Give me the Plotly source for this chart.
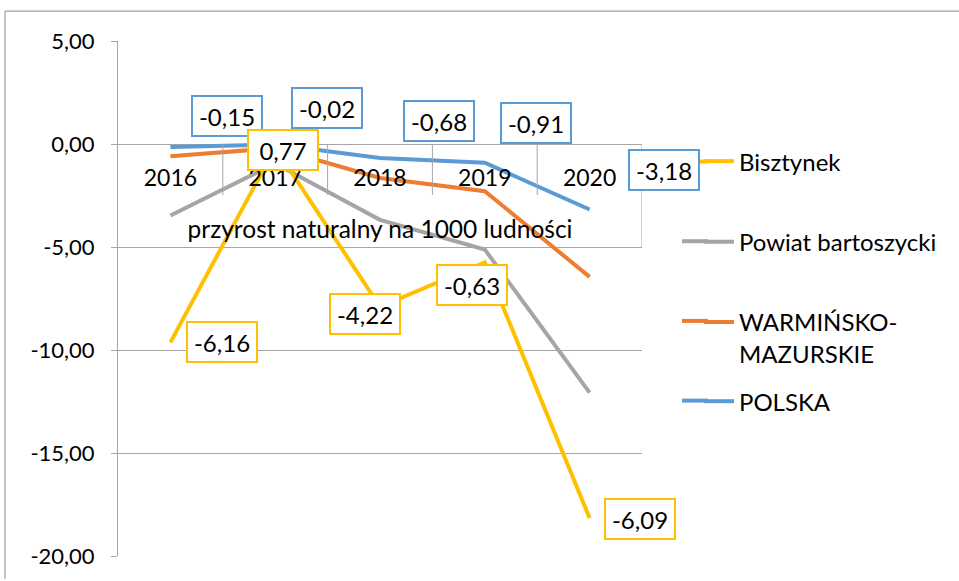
import numpy as np
import plotly.graph_objects as go

# Przyrost naturalny na 1000 ludności, 2016-2020
years = ["2016", "2017", "2018", "2019", "2020"]
polska = [-0.15, -0.02, -0.68, -0.91, -3.18]
warminsko_mazurskie = [-0.45, -0.18, -0.97, -1.38, -3.27]
powiat_bartoszycki = [-2.87, -0.75, -2.03, -2.83, -5.62]
bisztynek = [-6.16, 0.77, -4.22, -0.63, -6.09]

y_tickvals = [5, 0, -5, -10, -15, -20]
y_ticktext = ["5,00", "0,00", "-5,00", "-10,00", "-15,00", "-20,00"]

FONT = "Lato"
GRID = "#A6A6A6"

series = [
    ("POLSKA", polska, "#5B9BD5", "legend4"),
    ("WARMIŃSKO-<br>MAZURSKIE", warminsko_mazurskie, "#ED7D31", "legend3"),
    ("Powiat bartoszycki", powiat_bartoszycki, "#A5A5A5", "legend2"),
    ("Bisztynek", bisztynek, "#FFC000", "legend"),
]

fig = go.Figure()
for name, vals, color, leg in series:
    fig.add_trace(go.Scatter(
        x=years, y=vals, name=name, mode="lines",
        stackgroup="s", fill="none",
        line=dict(color=color, width=4),
        legend=leg, hoverinfo="skip",
    ))


def fmt(v):
    return f"{v:.2f}".replace(".", ",")


# stacked positions of the two labelled series
polska_top = np.array(polska)
bisztynek_top = (np.array(polska) + np.array(warminsko_mazurskie)
                 + np.array(powiat_bartoszycki) + np.array(bisztynek))

# label box offsets in px (right, down)
polska_offsets = [(57, -31), (52, -36), (59, -37), (51, -40), (74, -40)]
bisztynek_offsets = [(52, 0), (8, 2), (-15, 7), (-13, 23), (50, 1)]

for vals, tops, offs, col in [
    (polska, polska_top, polska_offsets, "#5B9BD5"),
    (bisztynek, bisztynek_top, bisztynek_offsets, "#FFC000"),
]:
    for k, (v, t, (dx, dy)) in enumerate(zip(vals, tops, offs)):
        fig.add_annotation(
            x=k, y=float(t), xref="x", yref="y", text=fmt(v),
            showarrow=False, xshift=dx, yshift=-dy,
            font=dict(family=FONT, size=24, color="#000000"),
            bgcolor="#FFFFFF", bordercolor=col, borderwidth=2,
            borderpad=6, width=56, height=26,
        )

# category tick marks between years and the box edge at the right
shapes = []
for b in [0.5, 1.5, 2.5, 3.5]:
    shapes.append(dict(type="line", xref="x", yref="y", x0=b, x1=b, y0=0, y1=-2.48,
                       line=dict(color=GRID, width=1)))
shapes.append(dict(type="line", xref="x", yref="y", x0=4.5, x1=4.5, y0=0, y1=-5,
                   line=dict(color=GRID, width=1)))

# chart area frame
L, T, PW, PH = 118, 41, 524, 517
def px(xp):
    return (xp - L) / PW
def py(yp):
    return (T + PH - yp) / PH
shapes.append(dict(type="line", xref="paper", yref="paper",
                   x0=px(5), x1=px(959), y0=py(11), y1=py(11),
                   line=dict(color="#A0A0A0", width=1.2)))
shapes.append(dict(type="line", xref="paper", yref="paper",
                   x0=px(5), x1=px(5), y0=py(11), y1=py(581),
                   line=dict(color="#A0A0A0", width=1.2)))

# longer legend keys: extend each legend line to the left
legend_rows = [("#FFC000", 162), ("#A5A5A5", 242), ("#ED7D31", 322), ("#5B9BD5", 402)]
for col, yy in legend_rows:
    shapes.append(dict(type="line", xref="paper", yref="paper",
                       x0=px(682), x1=px(708), y0=py(yy), y1=py(yy),
                       line=dict(color=col, width=4)))

legend_common = dict(font=dict(family=FONT, size=24, color="#000000"),
                     bgcolor="rgba(0,0,0,0)", xanchor="left", yanchor="middle",
                     valign="top", itemwidth=30)
leg_x = px(699)

fig.update_layout(
    width=959, height=581,
    margin=dict(l=L, r=959 - L - PW, t=T, b=581 - T - PH),
    paper_bgcolor="#FFFFFF", plot_bgcolor="#FFFFFF",
    separators=", ",
    showlegend=True,
    legend=dict(**legend_common, x=leg_x, y=py(162)),
    legend2=dict(**legend_common, x=leg_x, y=py(243)),
    legend3=dict(**legend_common, x=leg_x, y=py(339)),
    legend4=dict(**legend_common, x=leg_x, y=py(403)),
    xaxis=dict(
        type="category", range=[-0.5, 4.5],
        anchor="free", position=0.8,
        showgrid=False, zeroline=False, showline=False, ticks="",
        ticklabelstandoff=18,
        tickfont=dict(family=FONT, size=23, color="#000000"),
        title=dict(text="przyrost naturalny na 1000 ludności",
                   font=dict(family=FONT, size=24.5, color="#000000"), standoff=30),
        layer="above traces",
    ),
    yaxis=dict(
        range=[-20, 5], tickvals=y_tickvals, ticktext=y_ticktext,
        showgrid=True, gridcolor=GRID, gridwidth=1,
        zeroline=False, showline=True, linecolor=GRID, linewidth=1,
        ticks="outside", ticklen=6, tickcolor=GRID,
        ticklabelstandoff=12,
        tickfont=dict(family=FONT, size=22, color="#000000"),
    ),
    shapes=shapes,
)

fig.write_html("out.html")
